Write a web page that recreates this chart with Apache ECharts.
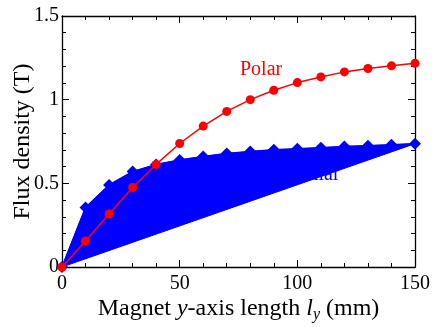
<!DOCTYPE html>
<html><head><meta charset="utf-8">
<script src="https://cdn.jsdelivr.net/npm/echarts@6/dist/echarts.min.js"></script>
<style>html,body{margin:0;padding:0;background:#fff}#c{width:435px;height:327px}</style>
</head><body><div id="c"></div>
<script>
const lengths = [0,10,20,30,40,50,60,70,80,90,100,110,120,130,140,150];
const polar = [0,0.156,0.317,0.475,0.613,0.738,0.842,0.930,1.0,1.056,1.102,1.136,1.166,1.186,1.202,1.217];
const axial = [0,0.355,0.49,0.57,0.612,0.64,0.66,0.678,0.69,0.70,0.706,0.713,0.72,0.725,0.73,0.737];
const xTicks = [0,50,100,150];
const yTicks = [0,0.5,1,1.5];
const polarLabel = {text:'Polar', x:84.6, y:1.18};
const axialLabel = {text:'Axial', x:108, y:0.55};

const F = 'Liberation Serif, Times New Roman, serif';
const chart = echarts.init(document.getElementById('c'));
const axisCommon = {
  axisLine:{show:true,onZero:false,lineStyle:{color:'#000',width:1.3}},
  axisTick:{show:true,inside:true,length:7,lineStyle:{color:'#000',width:1}},
  minorTick:{show:true,splitNumber:5,length:4,lineStyle:{color:'#000',width:1}},
  splitLine:{show:false}
};
chart.setOption({
  animation:false,
  grid:{left:62,right:20,top:16,bottom:60,containLabel:false,outerBoundsMode:'none'},
  xAxis:[
    Object.assign({type:'value',min:xTicks[0],max:xTicks[xTicks.length-1],interval:50,position:'bottom',
      axisLabel:{color:'#000',fontFamily:F,fontSize:20,margin:7},
      name:'{n|Magnet }{i|y}{n|-axis length }{i|l}{s|y}{n| (mm)}',nameLocation:'middle',nameGap:28,nameMoveOverlap:false,
      nameTextStyle:{rich:{n:{fontFamily:F,fontSize:24,color:'#000'},i:{fontFamily:F,fontSize:24,fontStyle:'italic',color:'#000'},s:{fontFamily:F,fontSize:16,fontStyle:'italic',color:'#000',verticalAlign:'bottom',padding:[12,0,0,0]}}}},axisCommon),
    Object.assign({type:'value',min:0,max:150,interval:50,position:'top',axisLabel:{show:false}},axisCommon)
  ],
  yAxis:[
    Object.assign({type:'value',min:yTicks[0],max:yTicks[yTicks.length-1],interval:0.5,position:'left',
      axisLabel:{color:'#000',fontFamily:F,fontSize:20,margin:3},
      name:'Flux density (T)',nameLocation:'middle',nameGap:27,nameMoveOverlap:false,
      nameTextStyle:{fontFamily:F,fontSize:24,color:'#000'}},axisCommon),
    Object.assign({type:'value',min:0,max:1.5,interval:0.5,position:'right',axisLabel:{show:false}},axisCommon)
  ],
  series:[
    {type:'custom',z:1,data:[[axialLabel.x,axialLabel.y]],
     renderItem:(p,api)=>{const c=api.coord([api.value(0),api.value(1)]);
       return {type:'text',x:c[0],y:c[1],style:{text:axialLabel.text,fill:'#0000ff',font:'20px '+F,textAlign:'center',textVerticalAlign:'middle'}};}},
    {type:'custom',z:2,data:[[0,0]],
     renderItem:(p,api)=>{const pts=lengths.map((x,i)=>api.coord([x,axial[i]]));
       return {type:'polygon',shape:{points:pts},style:{fill:'#0000ff',stroke:'#0000ff',lineWidth:1}};}},
    {type:'line',z:3,data:lengths.map((x,i)=>[x,axial[i]]),symbol:'diamond',symbolSize:12,
     lineStyle:{color:'#0000ff',width:1.5},itemStyle:{color:'#0000ff'}},
    {type:'line',z:4,data:lengths.map((x,i)=>[x,polar[i]]),symbol:'circle',symbolSize:9,
     lineStyle:{color:'#ff0000',width:1.5},itemStyle:{color:'#ff0000'}},
    {type:'custom',z:5,data:[[polarLabel.x,polarLabel.y]],
     renderItem:(p,api)=>{const c=api.coord([api.value(0),api.value(1)]);
       return {type:'text',x:c[0],y:c[1],style:{text:polarLabel.text,fill:'#ff0000',font:'20px '+F,textAlign:'center',textVerticalAlign:'middle'}};}}
  ]
});
</script></body></html>
